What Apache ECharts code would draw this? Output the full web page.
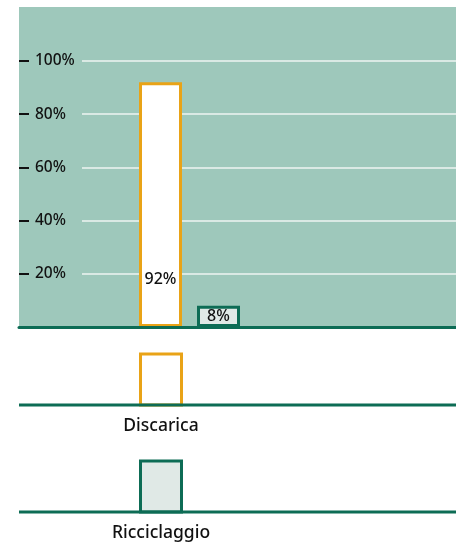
<!DOCTYPE html>
<html>
<head>
<meta charset="utf-8">
<script src="https://cdn.jsdelivr.net/npm/echarts@6/dist/echarts.min.js"></script>
<style>
  html, body { margin: 0; padding: 0; background: #fff; }
  #chart { width: 456px; height: 546px; }
</style>
</head>
<body>
<div id="chart"></div>
<script>
// dati
const categories = ['Discarica', 'Ricciclaggio'];
const shares = [92, 8];
const yMax = 100;
const yStep = 20;

// colori
const bgGreen = '#9ec8bb';
const darkGreen = '#0d6c55';
const orange = '#e9a317';
const lightFill = '#e0e9e6';
const textColor = '#111111';
const font = 'Noto Sans';

const barStyles = [
  { color: '#ffffff', borderColor: orange, borderWidth: 3 },
  { color: lightFill, borderColor: darkGreen, borderWidth: 3 }
];

const chart = echarts.init(document.getElementById('chart'));

// legenda in basso (riquadro + linea + testo)
const legendGraphics = [];
categories.forEach((name, i) => {
  const top = 354 + i * 107;
  legendGraphics.push({
    type: 'rect',
    shape: { x: 140.5, y: top, width: 41, height: 51 },
    style: { fill: barStyles[i].color, stroke: barStyles[i].borderColor, lineWidth: 3 }
  });
  legendGraphics.push({
    type: 'line',
    shape: { x1: 19, y1: top + 51, x2: 456, y2: top + 51 },
    style: { stroke: darkGreen, lineWidth: 3 }
  });
  legendGraphics.push({
    type: 'text',
    x: 161,
    y: top + 63,
    style: { text: name, fill: textColor, font: '500 17.5px "Noto Sans"', textAlign: 'center', textVerticalAlign: 'top' }
  });
});

const option = {
  animation: false,
  graphic: [
    {
      type: 'rect',
      z: -10,
      shape: { x: 19, y: 7, width: 437, height: 320 },
      style: { fill: bgGreen }
    }
  ].concat(legendGraphics),
  grid: [
    // tacche ed etichette
    { left: 19, right: 0, top: 61, bottom: 219 },
    // griglia bianca
    { left: 82, right: 0, top: 61, bottom: 219 },
    // barre
    { left: 131.5, right: 208.5, top: 61, bottom: 219 }
  ],
  xAxis: [
    {
      gridIndex: 0, type: 'category', data: [''], z: 5,
      axisLine: { show: true, lineStyle: { color: darkGreen, width: 3 } },
      axisTick: { show: false }, axisLabel: { show: false }
    },
    { gridIndex: 1, type: 'category', data: [''], show: false },
    { gridIndex: 2, type: 'category', data: categories, show: false }
  ],
  yAxis: [
    {
      gridIndex: 0, type: 'value', min: 0, max: yMax, interval: yStep,
      axisLine: { show: false },
      axisTick: { show: true, inside: true, length: 10, lineStyle: { color: textColor, width: 2 } },
      axisLabel: {
        inside: true, margin: 16, color: textColor, fontFamily: font, fontSize: 15.5, fontWeight: 500,
        formatter: v => (v === 0 ? '' : v + '%')
      },
      splitLine: { show: false }
    },
    {
      gridIndex: 1, type: 'value', min: 0, max: yMax, interval: yStep,
      axisLine: { show: false }, axisTick: { show: false }, axisLabel: { show: false },
      splitLine: { show: true, lineStyle: { color: '#eef5f2', width: 1.5 } }
    },
    {
      gridIndex: 2, type: 'value', min: 0, max: yMax, interval: yStep,
      axisLine: { show: false }, axisTick: { show: false }, axisLabel: { show: false },
      splitLine: { show: false }
    }
  ],
  series: [
    {
      type: 'bar',
      xAxisIndex: 2,
      yAxisIndex: 2,
      barWidth: 43,
      data: shares.map((v, i) => ({
        value: v,
        itemStyle: barStyles[i],
        label: i === 0
          ? { show: true, position: 'insideBottom', distance: 40 }
          : { show: true, position: 'inside' }
      })),
      label: {
        color: textColor, fontFamily: font, fontSize: 16, fontWeight: 500,
        formatter: p => p.value + '%'
      }
    }
  ]
};

chart.setOption(option);
</script>
</body>
</html>
